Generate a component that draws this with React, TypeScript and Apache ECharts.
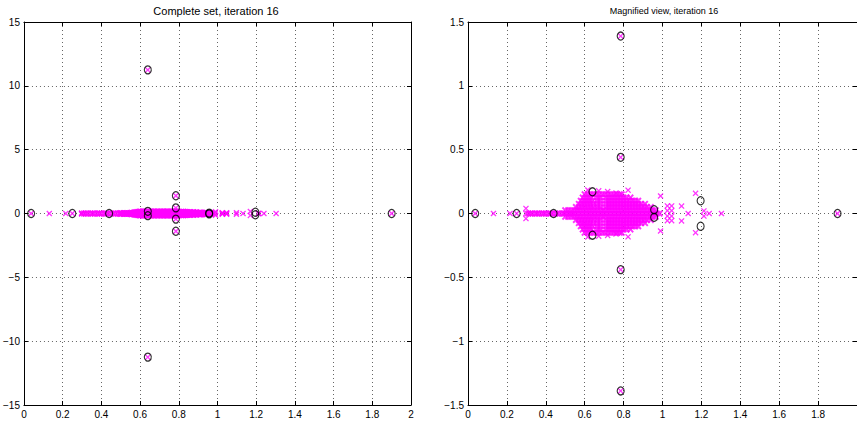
import React, { useEffect, useRef } from "react";
import * as echarts from "echarts";

// ---- data ----
const titles = ["Complete set, iteration 16", "Magnified view, iteration 16"];
const xTicks = { min: 0, max: 2, interval: 0.2 };
const yTicksFull = { min: -15, max: 15, interval: 5 };
const yTicksZoom = { min: -1.5, max: 1.5, interval: 0.5 };

// eigenvalues (black circles)
const eigX = [0.037, 0.25, 0.44, 0.64, 0.64, 0.785, 0.785, 0.785, 0.785, 0.957, 0.957, 1.196, 1.196, 1.9, 0.64, 0.64];
const eigY = [0, 0, 0, 0.17, -0.17, 0.44, -0.44, 1.39, -1.39, 0.03, -0.03, 0.1, -0.1, 0, 11.25, -11.25];

// isolated Ritz values (magenta crosses)
const ritzX = [0.037, 0.131, 0.216, 0.25, 0.298, 0.298, 0.298, 0.785, 0.785, 0.785, 0.785, 0.64, 0.64, 1.9,
  0.99, 0.99, 1.025, 1.025, 1.025, 1.025, 1.047, 1.047, 1.047, 1.047, 1.098, 1.098, 1.132, 1.17, 1.17,
  1.213, 1.213, 1.24, 1.303, 0.616, 0.616, 0.672, 0.672, 0.718, 0.718, 0.761, 0.761, 0.823, 0.823];
const ritzY = [0, 0, 0, 0, 0.04, 0, -0.04, 1.39, -1.39, 0.44, -0.44, 11.25, -11.25, 0,
  0.137, -0.137, 0.059, 0.022, -0.02, -0.056, 0.059, 0.022, -0.02, -0.056, 0.058, -0.058, 0, 0.158, -0.15,
  0.02, -0.02, 0, 0, 0.184, -0.184, 0.178, -0.178, 0.172, -0.172, 0.16, -0.16, 0.183, -0.183];

// dense cluster of Ritz values on the real axis
const axisBandX = [0.31, 0.32, 0.33, 0.345, 0.355, 0.365, 0.38, 0.39, 0.40, 0.415, 0.425, 0.435, 0.45, 0.46, 0.47,
  0.485, 0.495, 0.505, 0.52, 0.53, 0.54, 0.55, 0.565, 0.58, 0.595, 0.61, 0.625, 0.64, 0.655, 0.67, 0.685, 0.70,
  0.715, 0.73, 0.745, 0.76, 0.775, 0.79, 0.805, 0.82, 0.835, 0.85, 0.865, 0.88, 0.895, 0.91, 0.925, 0.94, 0.955,
  0.97, 0.985];

// dense cluster of complex-conjugate Ritz pairs: row imaginary parts and real parts
const bandRowY = [0.025, 0.05, 0.075, 0.1, 0.125, 0.15];
const bandRowX = [
  [0.5, 0.515, 0.53, 0.545, 0.56, 0.575, 0.59, 0.605, 0.62, 0.635, 0.65, 0.665, 0.68, 0.695, 0.71, 0.725, 0.74,
    0.755, 0.77, 0.785, 0.8, 0.815, 0.83, 0.845, 0.86, 0.875, 0.89, 0.905, 0.92, 0.935, 0.95, 0.965],
  [0.555, 0.57, 0.585, 0.6, 0.615, 0.63, 0.645, 0.665, 0.68, 0.71, 0.725, 0.74, 0.755, 0.77, 0.785, 0.8, 0.815,
    0.83, 0.845, 0.86, 0.875, 0.89, 0.905, 0.92, 0.94],
  [0.57, 0.585, 0.6, 0.615, 0.63, 0.645, 0.665, 0.68, 0.71, 0.725, 0.74, 0.755, 0.77, 0.785, 0.8, 0.815, 0.83,
    0.845, 0.86, 0.875, 0.89, 0.91],
  [0.58, 0.595, 0.61, 0.625, 0.64, 0.665, 0.68, 0.71, 0.725, 0.74, 0.755, 0.77, 0.785, 0.8, 0.815, 0.83, 0.845,
    0.86, 0.875],
  [0.59, 0.605, 0.62, 0.635, 0.665, 0.68, 0.71, 0.725, 0.74, 0.755, 0.77, 0.785, 0.8, 0.815, 0.835],
  [0.6, 0.615, 0.63, 0.645, 0.66, 0.675, 0.69, 0.705, 0.72, 0.735, 0.75, 0.765, 0.78, 0.79],
];

const MAGENTA = "#ff00ff";
const FONT = "'Liberation Sans', Arial, Helvetica, sans-serif";
const CROSS = "path://M0,1.5L1.5,0L5,3.5L8.5,0L10,1.5L6.5,5L10,8.5L8.5,10L5,6.5L1.5,10L0,8.5L3.5,5Z";
const CROSS_BOLD = "path://M0,2L2,0L5,3L8,0L10,2L7,5L10,8L8,10L5,7L2,10L0,8L3,5Z";

function fmt(v: number) {
  const s = String(Math.round(v * 100) / 100);
  return s.replace("-", "\u2212");
}

export default function App() {
  const ref = useRef<HTMLDivElement>(null);

  useEffect(() => {
    if (!ref.current) return;
    const chart = echarts.init(ref.current, null, { renderer: "svg" });

    const ritzData: number[][] = [];
    for (let i = 0; i < ritzX.length; i++) ritzData.push([ritzX[i], ritzY[i]]);
    const clusterData: number[][] = [];
    axisBandX.forEach((x) => clusterData.push([x, 0]));
    bandRowY.forEach((y, r) => {
      bandRowX[r].forEach((x) => {
        clusterData.push([x, y]);
        clusterData.push([x, -y]);
      });
    });
    const eigData: number[][] = eigX.map((x, i) => [x, eigY[i]]);

    const grids = [
      { left: 21, top: 22, width: 390, height: 383 },
      { left: 468, top: 22, width: 391, height: 383 },
    ];
    const yRanges = [yTicksFull, yTicksZoom];

    const axisLine = { show: true, onZero: false, lineStyle: { color: "#000", width: 1 } };
    const axisTick = { show: true, inside: true, length: 4, lineStyle: { color: "#000" } };
    const splitLine = { show: true, lineStyle: { color: "#666", type: [1, 3] as any, width: 1 } };
    const label = { color: "#000", fontSize: 10, fontFamily: FONT, formatter: fmt };

    const xAxis: any[] = [];
    const yAxis: any[] = [];
    grids.forEach((_, g) => {
      xAxis.push({
        type: "value", gridIndex: g, position: "bottom", ...xTicks,
        axisLine, axisTick, splitLine,
        axisLabel: { ...label, margin: 4, showMinLabel: true, showMaxLabel: g === 0 },
      });
      xAxis.push({
        type: "value", gridIndex: g, position: "top", ...xTicks,
        axisLine, axisTick, splitLine: { show: false }, axisLabel: { show: false },
      });
      yAxis.push({
        type: "value", gridIndex: g, position: "left", ...yRanges[g],
        axisLine, axisTick, splitLine, axisLabel: { ...label, margin: 4, showMinLabel: true, showMaxLabel: true },
      });
      yAxis.push({
        type: "value", gridIndex: g, position: "right", ...yRanges[g],
        axisLine, axisTick, splitLine: { show: false }, axisLabel: { show: false },
      });
    });

    const series: any[] = [];
    grids.forEach((_, g) => {
      series.push({
        type: "scatter", name: "Ritz cluster", xAxisIndex: 2 * g, yAxisIndex: 2 * g,
        data: clusterData, symbol: CROSS_BOLD, symbolSize: 7, clip: true, silent: true,
        itemStyle: { color: MAGENTA }, emphasis: { disabled: true },
      });
      series.push({
        type: "scatter", name: "Ritz values", xAxisIndex: 2 * g, yAxisIndex: 2 * g,
        data: ritzData, symbol: CROSS, symbolSize: 6, clip: true, silent: true,
        itemStyle: { color: MAGENTA }, emphasis: { disabled: true },
      });
      series.push({
        type: "scatter", name: "Eigenvalues", xAxisIndex: 2 * g, yAxisIndex: 2 * g,
        data: eigData, symbol: "circle", symbolSize: [7, 8], clip: true, silent: true,
        itemStyle: { color: "rgba(0,0,0,0)", borderColor: "#000", borderWidth: 1.2 },
        emphasis: { disabled: true },
      });
    });

    chart.setOption({
      animation: false,
      backgroundColor: "#fff",
      grid: grids.map((g) => ({ ...g, containLabel: false })),
      xAxis,
      yAxis,
      series,
      graphic: [
        {
          type: "text", x: 216, y: 11,
          style: { text: titles[0], fontSize: 11, fontFamily: FONT, fill: "#000", align: "center", verticalAlign: "middle" },
        },
        {
          type: "text", x: 664, y: 11,
          style: { text: titles[1], fontSize: 9, fontFamily: FONT, fill: "#000", align: "center", verticalAlign: "middle" },
        },
      ],
    });

    return () => chart.dispose();
  }, []);

  return (
    <div
      ref={ref}
      style={{ position: "fixed", left: 0, top: 0, width: 857, height: 424, background: "#fff" }}
    />
  );
}
